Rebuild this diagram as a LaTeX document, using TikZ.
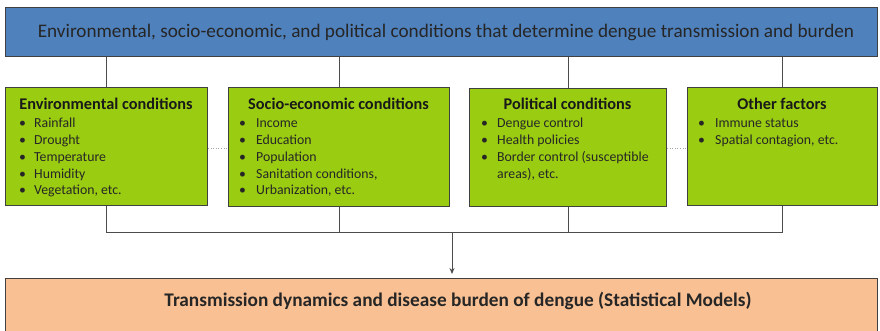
\documentclass[tikz,border=0pt]{standalone}
\usepackage{fontspec}
\setmainfont{Carlito}
\usetikzlibrary{arrows.meta}
\definecolor{topblue}{HTML}{4F81BD}
\definecolor{boxgreen}{HTML}{9ACC12}
\definecolor{botorange}{HTML}{F9C193}
\begin{document}
\begin{tikzpicture}[x=1pt,y=-1pt,
  frame/.style={draw=black!75, line width=0.9pt, inner sep=0pt, anchor=north west},
  gbox/.style={frame, fill=boxgreen},
  head/.style={font=\fontsize{16.3}{18}\selectfont\bfseries, anchor=base, inner sep=0pt, text=black!90},
  blist/.style={font=\fontsize{13.8}{16.7}\selectfont, anchor=base west, inner sep=0pt, text=black!85},
  conn/.style={draw=black!70, line width=0.9pt},
  dotc/.style={draw=black!35, line width=0.6pt, dotted}]
\useasboundingbox (0,0) rectangle (880,331);
% top box
\node[frame, fill=topblue, minimum width=872pt, minimum height=49pt] (top) at (5,7) {};
\node[font=\fontsize{19.2}{21}\selectfont, text=black!85, inner sep=0pt] (toptext) at (446,32) {Environmental, socio-economic, and political conditions that determine dengue transmission and burden};
% green boxes
\node[gbox, minimum width=202pt, minimum height=118pt] (b1) at (5,87) {};
\node[gbox, minimum width=221pt, minimum height=119pt] (b2) at (228,87) {};
\node[gbox, minimum width=197pt, minimum height=118pt] (b3) at (469,88) {};
\node[gbox, minimum width=190pt, minimum height=118pt] (b4) at (687,87) {};
% headings
\node[head] (h1) at (106,110) {Environmental conditions};
\node[head] (h2) at (338.5,110) {Socio-economic conditions};
\node[head] (h3) at (567.5,110) {Political conditions};
\node[head] (h4) at (782,110) {Other factors};
% lists
\newcommand{\bl}{\textbullet}
\node[blist] (l1) at (19,128) {\begin{tabular}[t]{@{}p{15pt}@{}l@{}}\bl & Rainfall\\ \bl & Drought\\ \bl & Temperature\\ \bl & Humidity\\ \bl & Vegetation, etc.\end{tabular}};
\node[blist] (l2) at (239,128) {\begin{tabular}[t]{@{}p{17pt}@{}l@{}}\bl & Income\\ \bl & Education\\ \bl & Population\\ \bl & Sanitation conditions,\\ \bl & Urbanization, etc.\end{tabular}};
\node[blist] (l3) at (481,128) {\begin{tabular}[t]{@{}p{16pt}@{}l@{}}\bl & Dengue control\\ \bl & Health policies\\ \bl & Border control (susceptible\\ & areas), etc.\end{tabular}};
\node[blist] (l4) at (698,128) {\begin{tabular}[t]{@{}p{17pt}@{}l@{}}\bl & Immune status\\ \bl & Spatial contagion, etc.\end{tabular}};
% bottom box
\node[frame, fill=botorange, minimum width=872pt, minimum height=60pt] (bot) at (5,278) {};
\node[font=\fontsize{19.3}{21}\selectfont\bfseries, text=black!85, inner sep=0pt] (bottext) at (458,301) {Transmission dynamics and disease burden of dengue (Statistical Models)};
% connectors
\foreach \b in {b1,b2,b3,b4} {\draw[conn] (top.south -| \b.north) -- (\b.north);}
\coordinate (hl) at (106,232);
\coordinate (ar) at (452,232);
\draw[conn] (b1.south) -- (b1.south |- hl) -- (hl -| b4.south) -- (b4.south);
\draw[conn] (b2.south) -- (b2.south |- hl);
\draw[conn] (b3.south) -- (b3.south |- hl);
\draw[conn, -{Stealth[length=6pt,width=5pt]}] (ar) -- ([yshift=4pt]ar |- bot.north);
\draw[dotc] (b1.east |- 0,148) -- (b2.west |- 0,148);
\draw[dotc] (b3.east |- 0,148) -- (b4.west |- 0,148);
\end{tikzpicture}
\end{document}
